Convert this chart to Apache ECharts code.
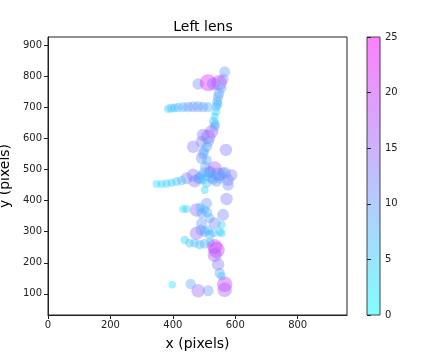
<!DOCTYPE html>
<html>
<head>
<meta charset="utf-8">
<script src="https://cdn.jsdelivr.net/npm/echarts@6/dist/echarts.min.js"></script>
<style>
  html, body { margin: 0; padding: 0; background: #fff; }
  #chart { width: 445px; height: 355px; }
</style>
</head>
<body>
<div id="chart"></div>
<script>
// points: x, y (pixels) and colour value
var xs = [566, 561, 481, 513, 548, 556, 530,
  545, 542, 540, 538, 534, 531, 534, 548, 544, 536,
  385, 395, 405, 417, 433, 449, 465, 481, 497, 513,
  524, 513, 497, 492, 465, 509, 497, 570, 492, 509, 504, 515, 500,
  518, 534, 566, 588, 465, 444, 486, 524, 550, 577, 508, 540, 577, 500, 545, 470, 490, 530,
  512, 528, 556, 496, 520, 560, 480,
  348, 364, 380, 396, 412, 428,
  502, 572, 433, 444, 476, 508, 502, 492, 518, 561, 534, 492, 556, 488, 510,
  476, 502, 518, 550, 556, 490, 512, 530,
  438, 454, 470, 486, 502, 520,
  534, 540, 534, 545, 550, 556, 566, 566, 481, 513, 457, 398];
var ys = [814, 790, 775, 779, 779, 761, 775,
  734, 718, 702, 686, 670, 654, 637, 745, 710, 645,
  695, 697, 698, 699, 700, 701, 702, 702, 701, 700,
  621, 605, 611, 589, 573, 573, 552, 563, 536, 530, 509, 590, 560,
  493, 504, 488, 482, 482, 472, 472, 472, 472, 466, 456, 461, 450, 490, 485, 462, 480, 485,
  478, 468, 478, 466, 490, 490, 470,
  453, 453, 455, 457, 461, 464,
  434, 405, 373, 373, 370, 391, 370, 359, 343, 354, 327, 327, 322, 378, 362,
  295, 300, 290, 300, 295, 305, 305, 296,
  273, 263, 263, 258, 261, 265,
  252, 241, 225, 195, 167, 157, 131, 113, 110, 110, 132, 129];
var vals = [10, 10, 11, 22, 19, 8, 14,
  9, 8, 7, 6, 4, 7, 8, 9, 7, 7,
  5, 6, 6, 7, 8, 9, 10, 10, 9, 8,
  15, 17, 13, 12, 13, 9, 10, 13, 11, 8, 9, 9, 8,
  12, 16, 13, 12, 14, 12, 11, 8, 10, 12, 7, 9, 11, 9, 15, 13, 8, 6,
  7, 9, 8, 6, 10, 9, 8,
  4, 4, 5, 5, 6, 7,
  4, 13, 4, 4, 15, 10, 6, 9, 8, 12, 12, 10, 5, 7, 8,
  15, 9, 8, 5, 5, 10, 7, 6,
  5, 6, 6, 7, 8, 6,
  18, 21, 16, 13, 9, 5, 19, 17, 15, 10, 9, 3];

var xTicks = [0, 200, 400, 600, 800];
var yTicks = [100, 200, 300, 400, 500, 600, 700, 800, 900];

var points = xs.map(function (x, i) { return [x, ys[i], vals[i]]; });

var font = 'DejaVu Sans';
var chart = echarts.init(document.getElementById('chart'));

chart.setOption({
  animation: false,
  textStyle: { fontFamily: font },
  title: {
    text: 'Left lens',
    left: 198, top: 15, textAlign: 'center',
    textStyle: { fontSize: 14, fontWeight: 'normal', color: '#000', fontFamily: font }
  },
  grid: [
    { left: 48, top: 37, width: 299, height: 278, show: true, borderColor: '#222', borderWidth: 1, outerBoundsMode: 'none' },
    { left: 367, top: 37, width: 13, height: 278, show: false, outerBoundsMode: 'none' }
  ],
  xAxis: [
    {
      gridIndex: 0, type: 'value', min: 0, max: 958,
      name: 'x (pixels)', nameLocation: 'middle', nameGap: 22,
      nameTextStyle: { fontSize: 14, color: '#000' },
      splitLine: { show: false },
      axisLine: { show: true, lineStyle: { color: '#222' } },
      axisTick: { show: true, length: 4, lineStyle: { color: '#222' }, customValues: xTicks },
      axisLabel: { fontSize: 10, color: '#222', margin: 5, customValues: xTicks }
    },
    { gridIndex: 1, type: 'value', min: 0, max: 1, show: false }
  ],
  yAxis: [
    {
      gridIndex: 0, type: 'value', min: 32, max: 926,
      name: 'y (pixels)', nameLocation: 'middle', nameGap: 28,
      nameTextStyle: { fontSize: 14, color: '#000' },
      splitLine: { show: false },
      axisLine: { show: true, lineStyle: { color: '#222' } },
      axisTick: { show: true, length: 4, lineStyle: { color: '#222' }, customValues: yTicks },
      axisLabel: { fontSize: 10, color: '#222', margin: 6, customValues: yTicks }
    },
    {
      gridIndex: 1, type: 'value', min: 0, max: 25, interval: 5, position: 'right',
      splitLine: { show: false },
      axisLine: { show: false },
      axisTick: { show: true, length: 4, lineStyle: { color: '#222' } },
      axisLabel: { fontSize: 10, color: '#222', margin: 5 }
    }
  ],
  visualMap: {
    show: false,
    type: 'continuous',
    min: 0, max: 25, dimension: 2, seriesIndex: 0,
    inRange: { color: ['rgba(0,255,255,0.5)', 'rgba(255,0,255,0.5)'] }
  },
  // colorbar body
  graphic: [{
    type: 'rect',
    shape: { x: 367, y: 37, width: 13, height: 278 },
    style: {
      fill: new echarts.graphic.LinearGradient(0, 1, 0, 0, [
        { offset: 0, color: 'rgba(0,255,255,0.5)' },
        { offset: 1, color: 'rgba(255,0,255,0.5)' }
      ]),
      stroke: '#444', lineWidth: 1
    }
  }],
  series: [{
    type: 'scatter',
    xAxisIndex: 0, yAxisIndex: 0,
    data: points,
    symbolSize: function (d) { return 6 + d[2] * 0.5; },
    itemStyle: { borderWidth: 0 }
  }]
});
</script>
</body>
</html>
